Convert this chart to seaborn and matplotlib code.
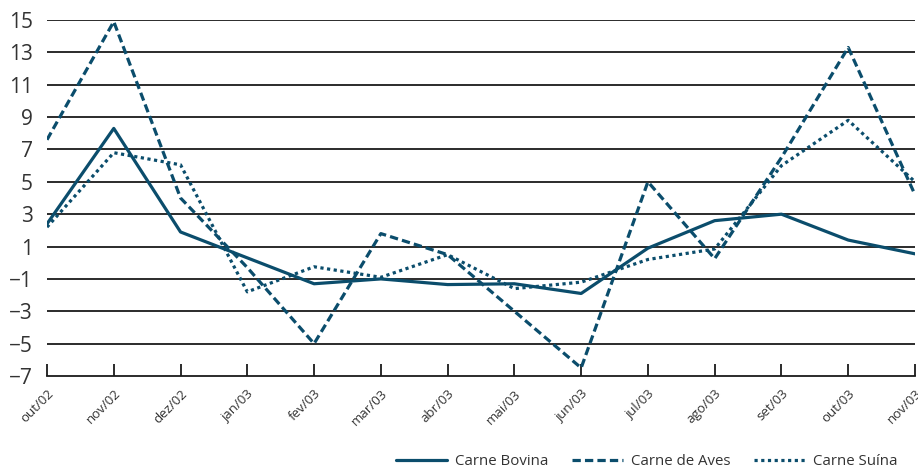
import matplotlib
matplotlib.use("Agg")
import matplotlib.pyplot as plt
import seaborn as sns
import pandas as pd
from matplotlib.lines import Line2D

months = ["out/02", "nov/02", "dez/02", "jan/03", "fev/03", "mar/03", "abr/03",
          "mai/03", "jun/03", "jul/03", "ago/03", "set/03", "out/03", "nov/03"]
bovina = [2.4, 8.3, 1.9, 0.3, -1.3, -1.0, -1.35, -1.3, -1.9, 0.9, 2.6, 3.0, 1.4, 0.55]
aves = [7.6, 14.9, 4.0, -0.3, -5.0, 1.8, 0.5, -3.0, -6.5, 5.0, 0.25, 6.5, 13.3, 4.2]
suina = [2.2, 6.8, 6.05, -1.8, -0.25, -0.9, 0.5, -1.6, -1.2, 0.2, 0.85, 6.0, 8.8, 5.0]
series_names = ["Carne Bovina", "Carne de Aves", "Carne Suína"]
yticks = list(range(-7, 16, 2))

sns.set_theme(style="white")
plt.rcParams["font.family"] = ["Open Sans", "DejaVu Sans"]

color = "#0b4d6c"
fig = plt.figure(figsize=(9.18, 4.71), dpi=100)
ax = fig.add_axes([47 / 918, 1 - 376 / 471, (915 - 47) / 918, (376 - 20) / 471])

x = list(range(len(months)))
styles = [dict(linestyle="-"), dict(linestyle=(0, (2.6, 1.3))), dict(linestyle=(0, (1.0, 1.1)))]
for name, vals, st in zip(series_names, [bovina, aves, suina], styles):
    df = pd.DataFrame({"x": x, "y": vals})
    sns.lineplot(data=df, x="x", y="y", ax=ax, color=color, lw=2.3, **st)

for v in yticks[1:]:
    ax.axhline(v, color="#1a1a1a", lw=1.3, zorder=0)

ax.set_xlim(0, len(months) - 1)
ax.set_ylim(-7, 15)
ax.set_yticks(yticks)
ax.set_yticklabels([str(v).replace("-", "\u2212") for v in yticks], fontsize=15, color="#333333")
ax.set_xticks(x)
ax.set_xticklabels(months, rotation=45, ha="right", rotation_mode="anchor", fontsize=9.5, color="#333333")
ax.tick_params(axis="x", direction="in", length=9, width=1.3, color="#1a1a1a", pad=8, bottom=True)
ax.tick_params(axis="y", length=0, pad=10)
ax.set_xlabel("")
ax.set_ylabel("")
for s in ["left", "right", "top"]:
    ax.spines[s].set_visible(False)
ax.spines["bottom"].set_color("#1a1a1a")
ax.spines["bottom"].set_linewidth(1.3)

handles = [Line2D([], [], color=color, lw=2.3, **st) for st in styles]
fig.legend(handles, series_names, loc="lower right", bbox_to_anchor=(0.992, -0.025), ncol=3,
           frameon=False, fontsize=10.8, handlelength=3.4, columnspacing=1.6, handletextpad=0.5,
           labelcolor="#333333")

fig.savefig("out.png", dpi=100)
